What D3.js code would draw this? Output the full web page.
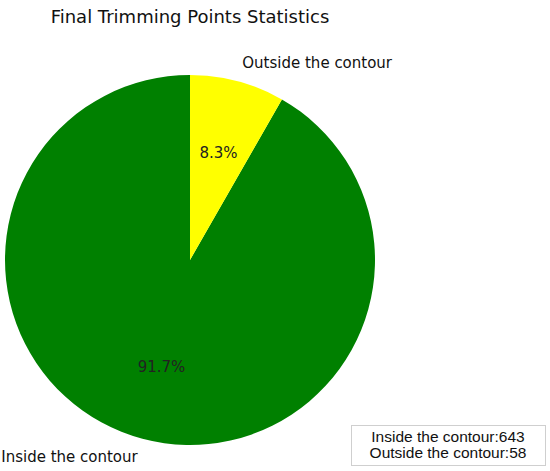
<!DOCTYPE html>
<html>
<head>
<meta charset="utf-8">
<script src="https://cdn.jsdelivr.net/npm/d3@7"></script>
<style>
  html, body { margin: 0; padding: 0; background: #fff; }
  svg { display: block; }
</style>
</head>
<body>
<svg id="chart" width="550" height="471"></svg>
<script>
const categories = ["Inside the contour", "Outside the contour"];
const counts = [643, 58];
const colors = ["#008000", "#ffff00"];
const title = "Final Trimming Points Statistics";

const W = 550, H = 471;
const cx = 190, cy = 260, R = 185;
const svg = d3.select("#chart");

const total = d3.sum(counts);
const data = categories.map((c, i) => ({ name: c, value: counts[i], color: colors[i] }));

// matplotlib-like: startangle 90, counterclockwise
const pie = d3.pie().value(d => d.value).sort(null)
  .startAngle(0).endAngle(-2 * Math.PI);
const arcs = pie(data);
const arc = d3.arc().innerRadius(0).outerRadius(R);

const g = svg.append("g").attr("transform", `translate(${cx},${cy})`);
g.selectAll("path").data(arcs).join("path")
  .attr("d", arc)
  .attr("fill", d => d.data.color);

const fontMain = "DejaVu Sans, sans-serif";
// category labels at 1.1 R
arcs.forEach(a => {
  const mid = (a.startAngle + a.endAngle) / 2;
  const x = Math.sin(mid) * R * 1.1;
  const y = -Math.cos(mid) * R * 1.1;
  g.append("text")
    .attr("x", x).attr("y", y)
    .attr("text-anchor", x < 0 ? "end" : "start")
    .attr("dominant-baseline", "central")
    .attr("font-family", fontMain)
    .attr("font-size", 15)
    .attr("fill", "#111")
    .text(a.data.name);
  const px = Math.sin(mid) * R * 0.6;
  const py = -Math.cos(mid) * R * 0.6;
  g.append("text")
    .attr("x", px).attr("y", py)
    .attr("text-anchor", "middle")
    .attr("dominant-baseline", "central")
    .attr("font-family", fontMain)
    .attr("font-size", 15)
    .attr("fill", "#222")
    .text(d3.format(".1%")(a.data.value / total));
});

svg.append("text")
  .attr("x", cx).attr("y", 16)
  .attr("text-anchor", "middle")
  .attr("dominant-baseline", "central")
  .attr("font-family", fontMain)
  .attr("font-size", 18)
  .attr("fill", "#111")
  .text(title);

// legend box
const lx = 351, ly = 425, lw = 194, lh = 40;
svg.append("rect")
  .attr("x", lx + 0.5).attr("y", ly + 0.5)
  .attr("width", lw).attr("height", lh)
  .attr("fill", "#fff")
  .attr("stroke", "#cfcfcf").attr("stroke-width", 1);
data.forEach((d, i) => {
  svg.append("text")
    .attr("x", lx + lw / 2).attr("y", ly + 11 + i * 16)
    .attr("text-anchor", "middle")
    .attr("dominant-baseline", "central")
    .attr("font-family", "Liberation Sans, Arial, sans-serif")
    .attr("font-size", 15.5)
    .attr("fill", "#111")
    .text(`${d.name}:${d.value}`);
});
</script>
</body>
</html>
